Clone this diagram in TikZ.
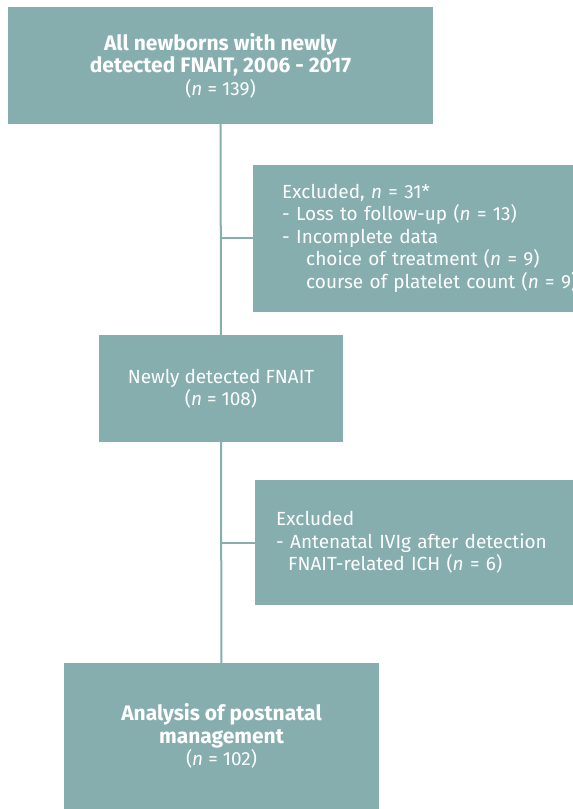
\documentclass[tikz,border=0pt]{standalone}
\usepackage{fontspec}
\usepackage{tikz}
\setmainfont{Fira Sans}
\definecolor{fnTeal}{HTML}{86AEAF}
\colorlet{fnLine}{fnTeal}
\newcommand{\fnhead}[1]{{\fontsize{21}{22.5}\selectfont\bfseries #1}}
\tikzset{
  flowbox/.style={rectangle, fill=fnTeal, text=white, inner sep=0pt, align=center,
    font=\fontsize{19}{22.5}\selectfont},
  exclbox/.style={flowbox, align=left, anchor=west},
  link/.style={fnLine, line width=2pt}
}

\begin{document}
\begin{tikzpicture}[x=1pt, y=-1pt]
\useasboundingbox (0,0) rectangle (573,809);
\node[flowbox, minimum width=425pt, minimum height=117pt] (all) at (220.5,65.5)
  {\fnhead{All newborns with newly}\\ \fnhead{detected FNAIT, 2006 - 2017}\\ (\textit{n} = 139)};
\node[exclbox, minimum height=147pt, text width=330pt, inner xsep=29pt] (excl1) at (253,238)
  {Excluded, \textit{n} = 31*\\ - Loss to follow-up (\textit{n} = 13)\\ - Incomplete data\\
   \hspace*{24pt}choice of treatment (\textit{n} = 9)\\ \hspace*{24pt}course of platelet count (\textit{n} = 9)};
\node[flowbox, minimum width=244pt, minimum height=107pt] (newly) at (221,388.5)
  {Newly detected FNAIT\\ (\textit{n} = 108)};
\node[exclbox, minimum height=125pt, text width=330pt, inner xsep=21pt] (excl2) at (255,542.5)
  {Excluded\\ - Antenatal IVIg after detection\\ \hspace*{12pt}FNAIT-related ICH (\textit{n} = 6)};
\node[flowbox, minimum width=315pt, minimum height=146pt] (final) at (221.5,736)
  {\fnhead{Analysis of postnatal}\\ \fnhead{management}\\ (\textit{n} = 102)};
% connectors
\draw[link] (all) -- (newly);
\draw[link] (newly) -- (final);
\draw[link] (excl1.west) -- (excl1.west -| all.south);
\draw[link] (excl2.west) -- (excl2.west -| newly.south);
\end{tikzpicture}
\end{document}
